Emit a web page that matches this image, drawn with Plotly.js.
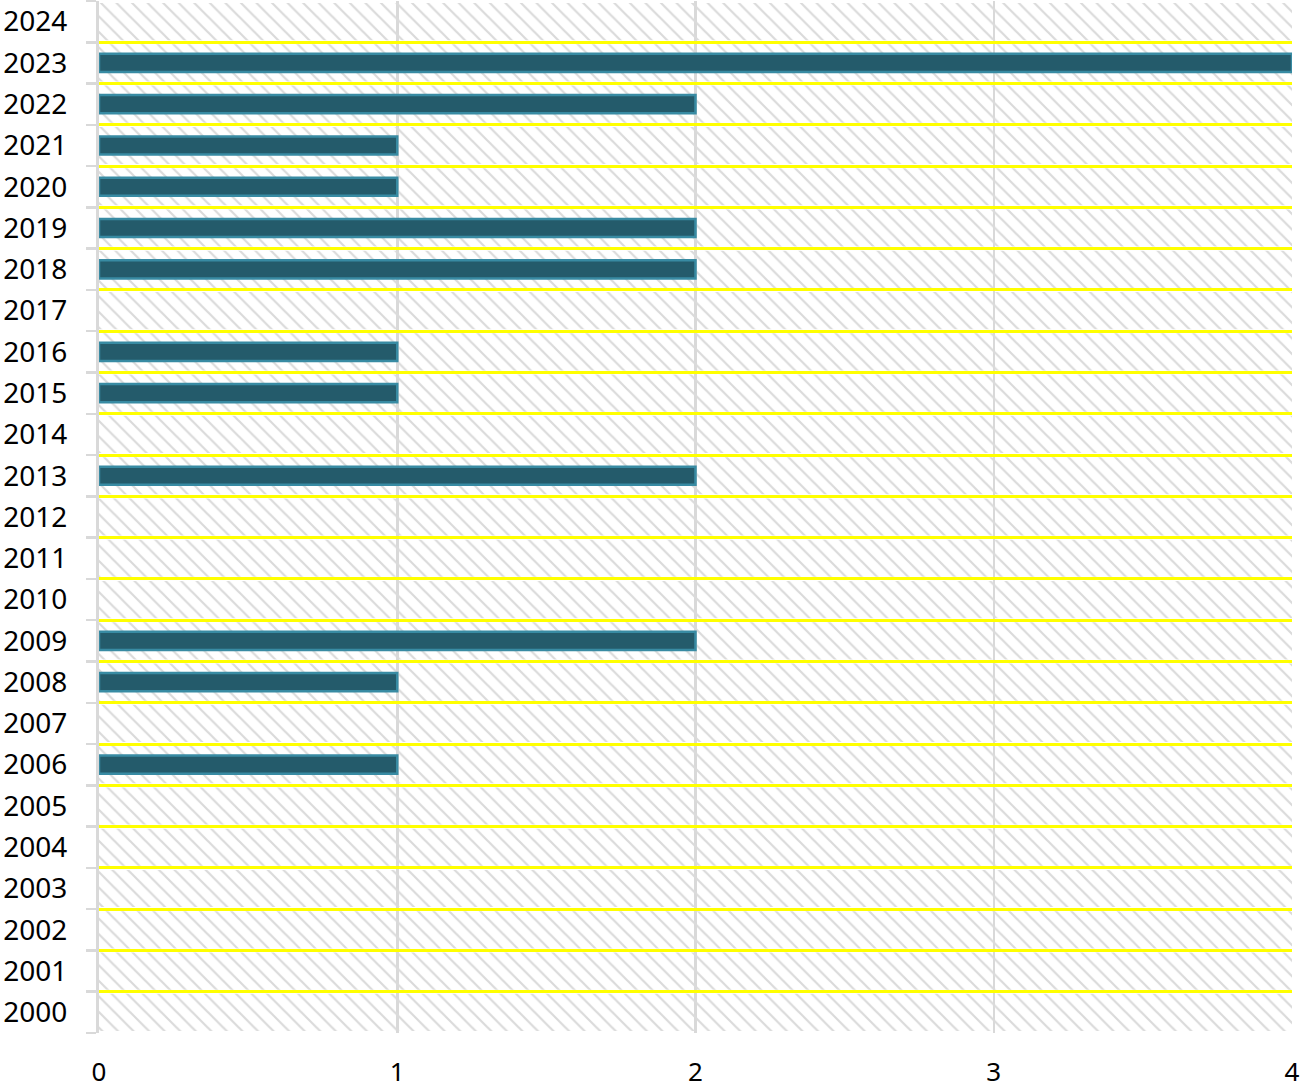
<!DOCTYPE html>
<html>
<head>
<meta charset="utf-8">
<script src="https://cdn.plot.ly/plotly-3.0.1.min.js"></script>
<style>
  html, body { margin:0; padding:0; background:#fff; }
  #chart { width:1300px; height:1088px; }
</style>
</head>
<body>
<div id="chart"></div>
<script>
// years bottom -> top
const years = ['2000','2001','2002','2003','2004','2005','2006','2007','2008','2009',
               '2010','2011','2012','2013','2014','2015','2016','2017','2018','2019',
               '2020','2021','2022','2023','2024'];
const counts = [0,0,0,0,0,0,1,0,1,2,
                0,0,0,2,0,1,1,0,2,2,
                1,1,2,4,0];
const xTicks = [0,1,2,3,4];

const xMax = xTicks[xTicks.length-1];
const font = "'Noto Sans', 'Open Sans', sans-serif";

// hatched plot background, one band per year
const bgTrace = {
  type:'bar',
  orientation:'h',
  y: years,
  x: years.map(()=>xMax),
  width: 0.9,
  marker:{
    color:'rgba(0,0,0,0)',
    line:{width:0},
    pattern:{ shape:'\\', fgcolor:'#dadada', bgcolor:'rgba(0,0,0,0)', size:11, solidity:0.2, fillmode:'replace' }
  },
  hoverinfo:'skip',
  showlegend:false
};

// no outline on empty years
const barTrace = {
  type:'bar',
  orientation:'h',
  y: years,
  x: counts,
  width: 0.44,
  marker:{ color:'#245b6b', line:{ color:'#388ba3', width: counts.map(v => v>0 ? 2.5 : 0) } },
  showlegend:false
};

const layout = {
  width:1300, height:1088,
  margin:{ l:99, r:8, t:1, b:55 },
  paper_bgcolor:'#fff',
  plot_bgcolor:'#fff',
  barmode:'overlay',
  font:{ family:font, size:28, color:'#000' },
  xaxis:{
    range:[0, xMax],
    tickvals: xTicks,
    ticks:'',
    showgrid:true, gridcolor:'#d9d9d9', gridwidth:2.5,
    zeroline:false,
    showline:false,
    ticklabelstandoff: 21,
    ticklabeloverflow:'allow',
    tickfont:{ family:font, size:26, color:'#000' }
  },
  yaxis:{
    type:'category',
    range:[-0.5, years.length-0.5],
    tickson:'boundaries',
    ticks:'outside', ticklen:10, tickwidth:2.5, tickcolor:'#d9d9d9',
    showgrid:true, gridcolor:'#ffff00', gridwidth:3,
    showline:true, linecolor:'#d9d9d9', linewidth:3,
    ticklabelstandoff: 23,
    tickfont:{ family:font, size:28, color:'#000' }
  }
};

Plotly.newPlot('chart', [bgTrace, barTrace], layout, { displayModeBar:false, staticPlot:true });
</script>
</body>
</html>
